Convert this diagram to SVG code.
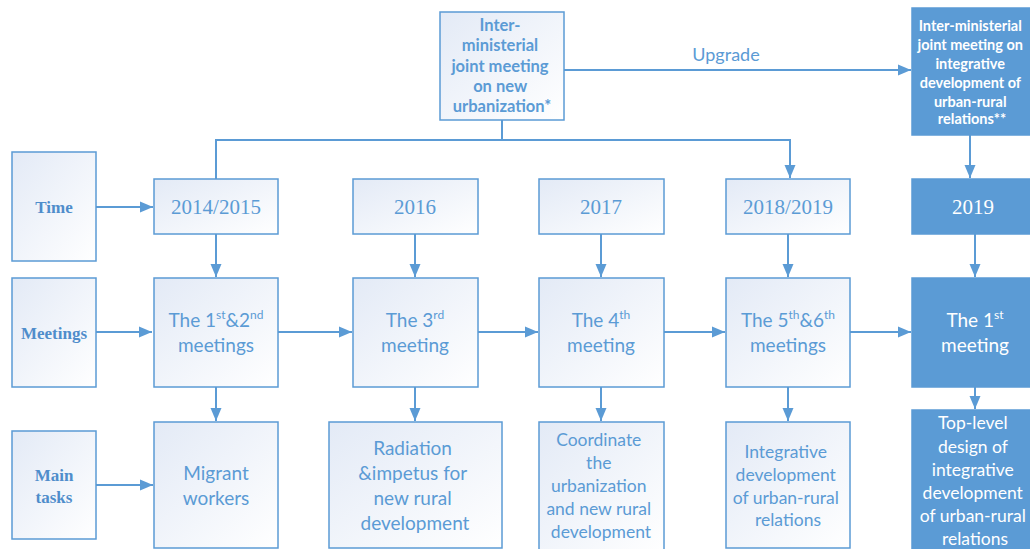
<svg xmlns="http://www.w3.org/2000/svg" width="1030" height="549" viewBox="0 0 1030 549">
  <defs>
    <linearGradient id="paleFill" x1="0" y1="0" x2="1" y2="1">
      <stop offset="0" stop-color="#E3EAF6"/>
      <stop offset="1" stop-color="#FFFFFF"/>
    </linearGradient>
    <marker id="arrow" markerUnits="userSpaceOnUse" markerWidth="14" markerHeight="14" viewBox="0 0 14 14" refX="13" refY="7" orient="auto">
      <path d="M0,1.5 L13,7 L0,12.5 Z" fill="#5B9BD5"/>
    </marker>
  </defs>
  <style>
    .box { fill: url(#paleFill); stroke: #5B9BD5; stroke-width: 1.5; }
    .solid { fill: #5B9BD5; stroke: #5B9BD5; stroke-width: 1.5; }
    .txt { font-family: Lato, "Open Sans", sans-serif; fill: #5B9BD5; text-anchor: middle; }
    .big { font-size: 19px; }
    .mid { font-size: 17.5px; }
    .wt { fill: #FFFFFF; }
    .bold { font-weight: bold; }
    .serif { font-family: "Liberation Serif", serif; fill: #5B9BD5; text-anchor: middle; }
    .year { font-size: 21px; }
    .label { font-size: 17px; font-weight: bold; fill: #4F8DCB; }
    .sup { font-size: 12px; }
    .link { fill: none; stroke: #5B9BD5; stroke-width: 2; }
  </style>

  <rect width="1030" height="549" fill="#FFFFFF"/>

  <!-- connectors -->
  <g id="connectors">
    <line class="link" x1="564" y1="70" x2="911" y2="70" marker-end="url(#arrow)"/>
    <polyline class="link" points="502,120 502,140"/>
    <polyline class="link" points="216,179 216,140 790,140 790,178" marker-end="url(#arrow)"/>
    <line class="link" x1="970" y1="135" x2="970" y2="178" marker-end="url(#arrow)"/>
    <!-- row headers to first column -->
    <line class="link" x1="96" y1="207" x2="153" y2="207" marker-end="url(#arrow)"/>
    <line class="link" x1="96" y1="332" x2="152" y2="332" marker-end="url(#arrow)"/>
    <line class="link" x1="96" y1="485" x2="153" y2="485" marker-end="url(#arrow)"/>
    <!-- year to meeting -->
    <line class="link" x1="216" y1="234" x2="216" y2="277" marker-end="url(#arrow)"/>
    <line class="link" x1="415" y1="234" x2="415" y2="277" marker-end="url(#arrow)"/>
    <line class="link" x1="601" y1="234" x2="601" y2="277" marker-end="url(#arrow)"/>
    <line class="link" x1="788" y1="234" x2="788" y2="277" marker-end="url(#arrow)"/>
    <line class="link" x1="975" y1="234" x2="975" y2="277" marker-end="url(#arrow)"/>
    <!-- meeting to meeting -->
    <line class="link" x1="278" y1="332" x2="352" y2="332" marker-end="url(#arrow)"/>
    <line class="link" x1="478" y1="332" x2="538" y2="332" marker-end="url(#arrow)"/>
    <line class="link" x1="664" y1="332" x2="725" y2="332" marker-end="url(#arrow)"/>
    <line class="link" x1="850" y1="332" x2="911" y2="332" marker-end="url(#arrow)"/>
    <!-- meeting to task -->
    <line class="link" x1="216" y1="387" x2="216" y2="421" marker-end="url(#arrow)"/>
    <line class="link" x1="415" y1="387" x2="415" y2="421" marker-end="url(#arrow)"/>
    <line class="link" x1="601" y1="387" x2="601" y2="421" marker-end="url(#arrow)"/>
    <line class="link" x1="788" y1="387" x2="788" y2="421" marker-end="url(#arrow)"/>
    <line class="link" x1="975" y1="387" x2="975" y2="409" marker-end="url(#arrow)"/>
    <text class="txt" x="726" y="61" font-size="18">Upgrade</text>
  </g>

  <!-- the two inter-ministerial bodies -->
  <g id="node-urbanization">
    <rect class="box" x="440" y="12" width="124" height="108"/>
    <text class="txt bold" font-size="16.5">
      <tspan x="502" y="31">Inter-</tspan>
      <tspan x="502" y="51">ministerial</tspan>
      <tspan x="502" y="72">joint meeting</tspan>
      <tspan x="502" y="92">on new</tspan>
      <tspan x="502" y="112">urbanization*</tspan>
    </text>
  </g>
  <g id="node-urban-rural">
    <rect class="solid" x="912" y="8" width="120" height="127"/>
    <text class="txt bold wt" font-size="14.5">
      <tspan x="972" y="31">Inter-ministerial</tspan>
      <tspan x="972" y="50">joint meeting on</tspan>
      <tspan x="972" y="69">integrative</tspan>
      <tspan x="972" y="88">development of</tspan>
      <tspan x="972" y="107">urban-rural</tspan>
      <tspan x="972" y="124">relations**</tspan>
    </text>
  </g>

  <!-- row headers -->
  <g id="label-time">
    <rect class="box" x="12" y="152" width="84" height="109"/>
    <text class="serif label" x="54" y="213">Time</text>
  </g>
  <g id="label-meetings">
    <rect class="box" x="12" y="278" width="84" height="109"/>
    <text class="serif label" x="54" y="339">Meetings</text>
  </g>
  <g id="label-tasks">
    <rect class="box" x="12" y="431" width="84" height="108"/>
    <text class="serif label"><tspan x="54" y="481">Main</tspan><tspan x="54" y="503">tasks</tspan></text>
  </g>

  <!-- years -->
  <g id="year-2014">
    <rect class="box" x="154" y="179" width="124" height="55"/>
    <text class="serif year" x="216" y="214">2014/2015</text>
  </g>
  <g id="year-2016">
    <rect class="box" x="353" y="179" width="125" height="55"/>
    <text class="serif year" x="415" y="214">2016</text>
  </g>
  <g id="year-2017">
    <rect class="box" x="539" y="179" width="125" height="55"/>
    <text class="serif year" x="601" y="214">2017</text>
  </g>
  <g id="year-2018">
    <rect class="box" x="726" y="179" width="124" height="55"/>
    <text class="serif year" x="788" y="214">2018/2019</text>
  </g>
  <g id="year-2019">
    <rect class="solid" x="912" y="179" width="126" height="55"/>
    <text class="serif year" x="973" y="214" style="fill:#FFFFFF">2019</text>
  </g>

  <!-- meetings -->
  <g id="meeting-1-2">
    <rect class="box" x="154" y="278" width="124" height="109"/>
    <text class="txt big"><tspan x="216" y="327">The 1<tspan class="sup" dy="-8">st</tspan><tspan dy="8">&amp;2</tspan><tspan class="sup" dy="-8">nd</tspan></tspan><tspan x="216" y="352">meetings</tspan></text>
  </g>
  <g id="meeting-3">
    <rect class="box" x="353" y="278" width="125" height="109"/>
    <text class="txt big"><tspan x="415" y="327">The 3<tspan class="sup" dy="-8">rd</tspan></tspan><tspan x="415" y="352">meeting</tspan></text>
  </g>
  <g id="meeting-4">
    <rect class="box" x="539" y="278" width="125" height="109"/>
    <text class="txt big"><tspan x="601" y="327">The 4<tspan class="sup" dy="-8">th</tspan></tspan><tspan x="601" y="352">meeting</tspan></text>
  </g>
  <g id="meeting-5-6">
    <rect class="box" x="726" y="278" width="124" height="109"/>
    <text class="txt big"><tspan x="788" y="327">The 5<tspan class="sup" dy="-8">th</tspan><tspan dy="8">&amp;6</tspan><tspan class="sup" dy="-8">th</tspan></tspan><tspan x="788" y="352">meetings</tspan></text>
  </g>
  <g id="meeting-new-1">
    <rect class="solid" x="912" y="278" width="126" height="109"/>
    <text class="txt big wt"><tspan x="975" y="327">The 1<tspan class="sup" dy="-8">st</tspan></tspan><tspan x="975" y="352">meeting</tspan></text>
  </g>

  <!-- main tasks -->
  <g id="task-migrant">
    <rect class="box" x="154" y="422" width="124" height="126"/>
    <text class="txt big"><tspan x="216" y="480">Migrant</tspan><tspan x="216" y="505">workers</tspan></text>
  </g>
  <g id="task-radiation">
    <rect class="box" x="329" y="422" width="173" height="126"/>
    <text class="txt big">
      <tspan x="415" y="455">Radiation</tspan>
      <tspan x="415" y="480">&amp;impetus  for</tspan>
      <tspan x="415" y="505">new rural</tspan>
      <tspan x="415" y="530">development</tspan>
    </text>
  </g>
  <g id="task-coordinate">
    <rect class="box" x="539" y="422" width="125" height="130"/>
    <text class="txt mid">
      <tspan x="601" y="446">Coordinate</tspan>
      <tspan x="601" y="469">the</tspan>
      <tspan x="601" y="492">urbanization</tspan>
      <tspan x="601" y="515">and new rural</tspan>
      <tspan x="601" y="538">development</tspan>
    </text>
  </g>
  <g id="task-integrative">
    <rect class="box" x="726" y="422" width="124" height="126"/>
    <text class="txt mid">
      <tspan x="788" y="458">Integrative</tspan>
      <tspan x="788" y="481">development</tspan>
      <tspan x="788" y="504">of urban-rural</tspan>
      <tspan x="788" y="526">relations</tspan>
    </text>
  </g>
  <g id="task-top-level">
    <rect class="solid" x="912" y="410" width="126" height="145"/>
    <text class="txt mid wt">
      <tspan x="975" y="429">Top-level</tspan>
      <tspan x="975" y="453">design of</tspan>
      <tspan x="975" y="476">integrative</tspan>
      <tspan x="975" y="499">development</tspan>
      <tspan x="975" y="522">of urban-rural</tspan>
      <tspan x="975" y="545">relations</tspan>
    </text>
  </g>
</svg>
